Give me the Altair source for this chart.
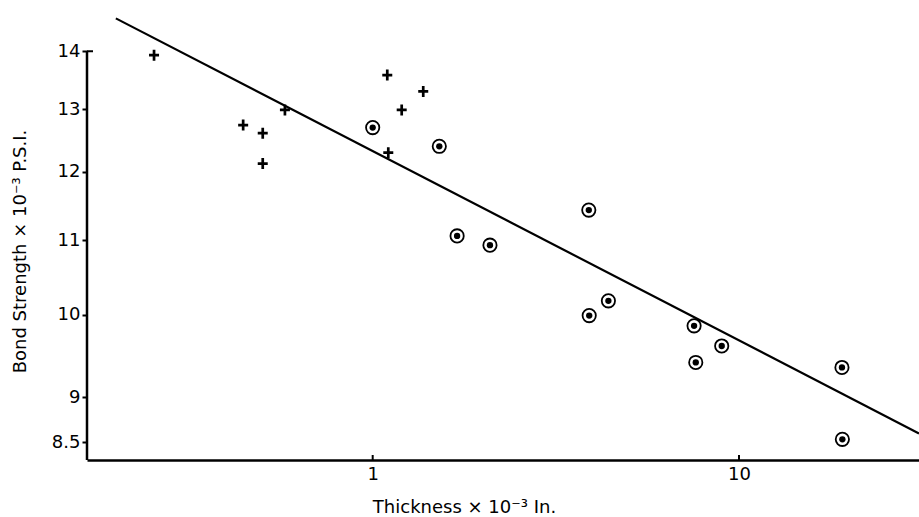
import altair as alt
import pandas as pd

# ---- data ----
cross_x = [0.253, 0.443, 0.501, 0.501, 0.576, 1.096, 1.103, 1.200, 1.374]
cross_y = [13.93, 12.74, 12.61, 12.13, 12.99, 13.58, 12.30, 12.99, 13.30]

circle_x = [1.00, 1.52, 1.70, 2.09, 3.89, 3.90, 4.40, 7.54, 7.62, 8.97, 19.1, 19.15]
circle_y = [12.70, 12.40, 11.06, 10.93, 11.43, 9.99, 10.18, 9.86, 9.41, 9.61, 9.35, 8.53]

fit_x = [0.199, 31.0]
fit_y = [14.60, 8.595]

x_ticks = [1, 10]
y_ticks = [8.5, 9, 10, 11, 12, 13, 14]

x_domain = [0.166, 31.0]
y_domain = [8.308, 14.757]

W, H = 832, 450
FONT = "DejaVu Sans"

crosses = pd.DataFrame({"x": cross_x, "y": cross_y})
circles = pd.DataFrame({"x": circle_x, "y": circle_y})
fit = pd.DataFrame({"x": fit_x, "y": fit_y})
xt = pd.DataFrame({"x": x_ticks})
yaxis = pd.DataFrame({"x": [x_domain[0]], "y": [max(y_ticks)], "y2": [y_domain[0]]})
ytop = pd.DataFrame({"y": [max(y_ticks)]})

xs = alt.Scale(type="log", domain=x_domain, nice=False, zero=False)
ys = alt.Scale(type="log", domain=y_domain, nice=False, zero=False)

x_axis = alt.Axis(
    values=x_ticks, format="~g", grid=False, ticks=False, tickSize=0,
    domain=True, domainColor="black", domainWidth=2.5,
    labelFont=FONT, labelFontSize=18, labelColor="black", labelPadding=5,
    title="Thickness \u00d7 10\u207b\u00b3 In.", titleFont=FONT, titleFontSize=18,
    titleFontWeight="normal", titleColor="black",
    titleX=377, titleY=52, titleAlign="center", titleBaseline="alphabetic",
    titleAnchor="start",
)
y_axis = alt.Axis(
    values=y_ticks, format="~g", grid=False, ticks=True, tickSize=5, tickWidth=2,
    tickColor="black", domain=False,
    labelFont=FONT, labelFontSize=18, labelColor="black", labelPadding=2,
    title="Bond Strength \u00d7 10\u207b\u00b3 P.S.I.", titleFont=FONT, titleFontSize=18,
    titleFontWeight="normal", titleColor="black",
    titleX=-67, titleY=241, titleAlign="center", titleBaseline="middle",
    titleAngle=270, titleAnchor="start",
)

base_x = alt.X("x:Q", scale=xs, axis=x_axis)
base_y = alt.Y("y:Q", scale=ys, axis=y_axis)

line = alt.Chart(fit).mark_line(color="black", strokeWidth=2.2, clip=True).encode(
    x=base_x, y=base_y
)

yline = alt.Chart(yaxis).mark_rule(color="black", strokeWidth=2.5).encode(
    x=alt.X("x:Q", scale=xs), y=alt.Y("y:Q", scale=ys), y2="y2:Q"
)

ystub = alt.Chart(ytop).mark_rule(color="black", strokeWidth=2).encode(
    y=alt.Y("y:Q", scale=ys), x=alt.value(0), x2=alt.value(6)
)

xtick = alt.Chart(xt).mark_rule(color="black", strokeWidth=2).encode(
    x=alt.X("x:Q", scale=xs), y=alt.value(H - 5), y2=alt.value(H)
)

cross_mark = alt.Chart(crosses).mark_point(
    shape="M-1,0L1,0M0,-1.1L0,1.1", size=100, filled=False,
    stroke="black", strokeWidth=2.7, opacity=1, strokeCap="butt",
).encode(x=alt.X("x:Q", scale=xs), y=alt.Y("y:Q", scale=ys))

ring = alt.Chart(circles).mark_point(
    shape="circle", size=177, filled=False, stroke="black", strokeWidth=1.8, opacity=1,
).encode(x=alt.X("x:Q", scale=xs), y=alt.Y("y:Q", scale=ys))

dot = alt.Chart(circles).mark_point(
    shape="circle", size=40, filled=True, fill="black", strokeWidth=0, opacity=1,
).encode(x=alt.X("x:Q", scale=xs), y=alt.Y("y:Q", scale=ys))

chart = (
    alt.layer(line, yline, ystub, xtick, cross_mark, ring, dot)
    .properties(
        width=W, height=H,
        autosize=alt.AutoSizeParams(type="none"),
        padding={"left": 87, "top": 10, "right": 0, "bottom": 57},
        background="white",
    )
    .configure_view(stroke=None)
)

chart.save("out.html", embed_options={"renderer": "svg", "actions": False})
